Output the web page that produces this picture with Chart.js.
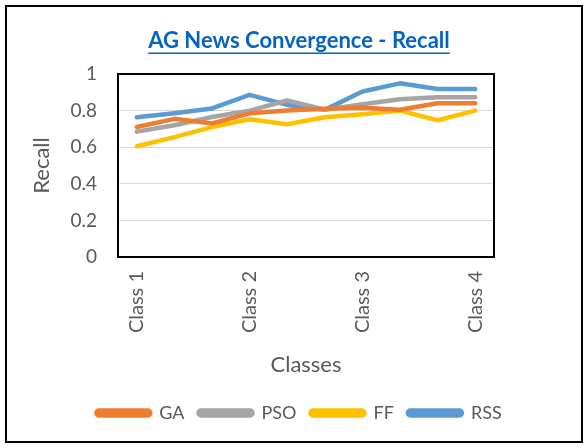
<!DOCTYPE html>
<html>
<head>
<meta charset="utf-8">
<script src="https://cdn.jsdelivr.net/npm/chart.js@4"></script>
<style>
  html, body { margin: 0; padding: 0; background: #fff; }
  #wrap { width: 588px; height: 448px; position: relative; }
</style>
</head>
<body>
<div id="wrap"><canvas id="recallChart" width="588" height="448"></canvas></div>
<script>
// AG News convergence - recall values per class step
const classLabels = ['Class 1', '', '', 'Class 2', '', '', 'Class 3', '', '', 'Class 4'];
const gaValues  = [0.71, 0.755, 0.73, 0.785, 0.80, 0.81, 0.815, 0.805, 0.84, 0.84];
const psoValues = [0.685, 0.72, 0.765, 0.80, 0.855, 0.805, 0.835, 0.862, 0.873, 0.873];
const ffValues  = [0.605, 0.655, 0.71, 0.753, 0.725, 0.764, 0.78, 0.80, 0.747, 0.80];
const rssValues = [0.764, 0.786, 0.812, 0.886, 0.831, 0.804, 0.904, 0.949, 0.918, 0.918];
const yTicks = [0, 0.2, 0.4, 0.6, 0.8, 1];

const FONT = "Lato, 'Liberation Sans', sans-serif";
const TEXT = '#595959';

// frame round the whole picture, border of the plot, underline of the title
const framePlugin = {
    id: 'frame',
    afterDraw(chart) {
        const ctx = chart.ctx;
        const a = chart.chartArea;
        ctx.save();
        ctx.strokeStyle = '#000';
        ctx.lineWidth = 2;
        ctx.strokeRect(6, 6, 576, 436);
        ctx.strokeRect(a.left, a.top, a.right - a.left, a.bottom - a.top);

        const tb = chart.titleBlock;
        if (tb) {
            const opts = chart.options.plugins.title;
            const f = opts.font;
            ctx.font = 'bold ' + f.size + 'px ' + f.family;
            const w = ctx.measureText(opts.text).width;
            const cx = (tb.left + tb.right) / 2;
            const y = tb.top + opts.padding.top + f.size * 0.6 + f.size * 0.55;
            ctx.strokeStyle = '#0563C1';
            ctx.lineWidth = 1.5;
            ctx.beginPath();
            ctx.moveTo(cx - w / 2, y);
            ctx.lineTo(cx + w / 2, y);
            ctx.stroke();
        }
        ctx.restore();
    }
};

function series(label, data, color) {
    return {
        label: label,
        data: data,
        borderColor: color,
        backgroundColor: color,
        borderWidth: 4.5,
        pointRadius: 0,
        borderJoinStyle: 'round',
        borderCapStyle: 'round',
        tension: 0
    };
}

new Chart(document.getElementById('recallChart'), {
    type: 'line',
    data: {
        labels: classLabels,
        datasets: [
            series('GA', gaValues, '#ED7D31'),
            series('PSO', psoValues, '#A5A5A5'),
            series('FF', ffValues, '#FFC000'),
            series('RSS', rssValues, '#5B9BD5')
        ]
    },
    options: {
        responsive: false,
        animation: false,
        layout: { padding: { left: 10, right: 0, top: 22, bottom: 16 } },
        plugins: {
            title: {
                display: true,
                text: 'AG News Convergence - Recall',
                color: '#0563C1',
                font: { family: FONT, size: 22, weight: 'bold' },
                padding: { top: 6, bottom: 19.6 }
            },
            legend: {
                position: 'bottom',
                labels: {
                    color: TEXT,
                    font: { family: FONT, size: 18 },
                    boxWidth: 54,
                    boxHeight: 5,
                    useBorderRadius: true,
                    borderRadius: 2.5,
                    padding: 14
                }
            },
            tooltip: { enabled: false }
        },
        scales: {
            x: {
                offset: true,
                border: { display: false },
                grid: { display: false, drawTicks: false },
                ticks: {
                    color: TEXT,
                    font: { family: FONT, size: 20 },
                    minRotation: 90,
                    maxRotation: 90,
                    autoSkip: false,
                    padding: 14
                },
                title: {
                    display: true,
                    text: 'Classes',
                    color: TEXT,
                    font: { family: FONT, size: 22 },
                    padding: { top: 8, bottom: 12 }
                },
                afterFit(scale) { scale.height = 133; }
            },
            y: {
                min: 0,
                max: 1,
                border: { display: false },
                afterBuildTicks(scale) { scale.ticks = yTicks.map(v => ({ value: v })); },
                grid: { color: '#D9D9D9', lineWidth: 1, drawTicks: false },
                ticks: {
                    color: TEXT,
                    font: { family: FONT, size: 19 },
                    padding: 21,
                    callback: v => String(v)
                },
                title: {
                    display: true,
                    text: 'Recall',
                    color: TEXT,
                    font: { family: FONT, size: 22 },
                    padding: { top: 19, bottom: 0 }
                },
                afterFit(scale) { scale.width = 108; }
            },
            // empty right axis: keeps the blank space right of the plot
            yRight: {
                position: 'right',
                display: true,
                border: { display: false },
                grid: { display: false, drawTicks: false },
                ticks: { display: false },
                afterFit(scale) { scale.width = 94; }
            }
        }
    },
    plugins: [framePlugin]
});
</script>
</body>
</html>
